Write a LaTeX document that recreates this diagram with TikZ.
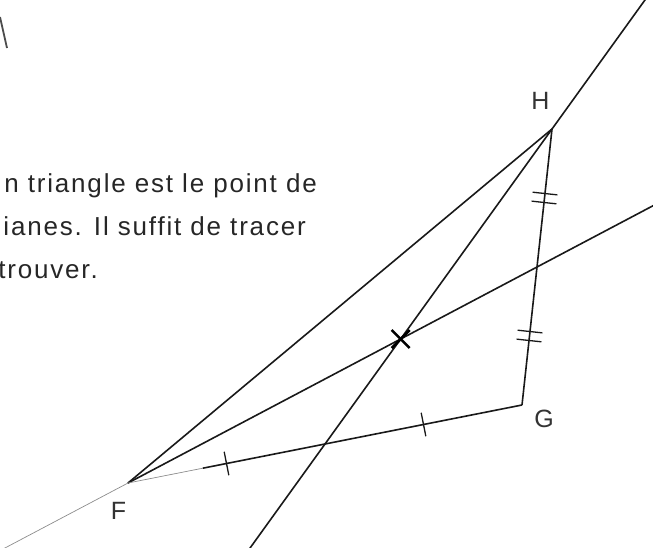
\documentclass[tikz,border=0pt]{standalone}
\usepackage{fontspec}
\setmainfont{Liberation Sans}
\usetikzlibrary{calc}
\begin{document}
\begin{tikzpicture}[x=1pt,y=-1pt,
  seg/.style={line width=1.6pt, black!90},
  faint/.style={line width=0.7pt, black!45},
  tickmark/.style={line width=1.3pt, black!90},
  lbl/.style={font=\fontsize{25}{25}\selectfont, text=black!80, inner sep=0pt},
  txt/.style={font=\fontsize{26}{26}\selectfont\addfontfeatures{LetterSpace=7}, text=black!85, inner sep=0pt, anchor=base east}]
\useasboundingbox (0,0) rectangle (653,547);
\clip (0,0) rectangle (653,547);
% vertices
\coordinate (H) at (552,129);
\coordinate (G) at (522,405);
\coordinate (F) at (128,483);
\coordinate (MFG) at ($(F)!0.5!(G)$);
\coordinate (MGH) at ($(G)!0.5!(H)$);
\coordinate (O) at ($(F)!2/3!(MGH)$);
\coordinate (Htop) at ($(H)!-0.45!(MFG)$);
\coordinate (Hbot) at ($(H)!1.4!(MFG)$);
\coordinate (Fend) at ($(F)!1.35!(MGH)$);
\coordinate (Fback) at ($(F)!-0.36!(MGH)$);
\coordinate (FGs) at ($(F)!0.19!(G)$);
% text fragment
\draw[line width=1.8pt, black!70] (0,17) -- (7,48);
\node[txt] (t1) at (317,192) {n triangle est le point de};
\node[txt] (t2) at (306,235) {ianes. Il suffit de tracer};
\node[txt] (t3) at (98,278) {trouver.};
% medians
\draw[seg] (Htop) -- (Hbot);
\draw[seg] (F) -- (Fend);
\draw[faint] (Fback) -- (F);
% sides
\draw[seg] (H) -- (F);
\draw[seg] (G) -- (H);
\draw[faint] (F) -- (FGs);
\draw[seg] (FGs) -- (G);
% single ticks on FG
\foreach \t in {0.25,0.75}{
  \coordinate (P) at ($(F)!\t!(G)$);
  \draw[tickmark] ($(P)!12pt!90:(G)$) -- ($(P)!12pt!-90:(G)$);
}
% double ticks on GH
\foreach \t in {0.25,0.75}{
  \coordinate (P) at ($(H)!\t!(G)$);
  \foreach \d in {-4.5,4.5}{
    \coordinate (Q) at ($(P)!\d pt!(G)$);
    \draw[tickmark] ($(Q)!12.5pt!90:(G)$) -- ($(Q)!12.5pt!-90:(G)$);
  }
}
% centroid cross
\draw[line width=2.6pt, black] ($(O)+(-9,-9)$) -- ($(O)+(9,9)$);
\draw[line width=2.6pt, black] ($(O)+(-9,9)$) -- ($(O)+(9,-9)$);
% labels
\node[lbl] (lH) at (540.5,101) {H};
\node[lbl] (lG) at (544,419) {G};
\node[lbl] (lF) at (118.5,511) {F};
\end{tikzpicture}
\end{document}
